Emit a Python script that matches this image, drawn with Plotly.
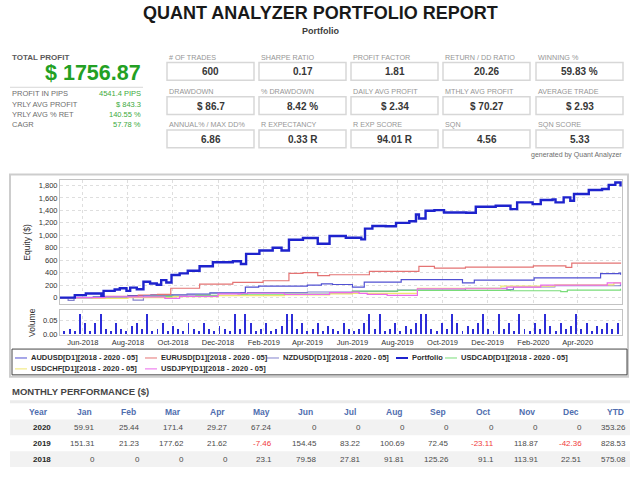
import plotly.graph_objects as go
import pandas as pd

W, H = 640, 480
FONT = "Liberation Sans, Arial, sans-serif"

# ---- equity curves ----
portfolio_dates = ["2018-05-01", "2018-05-21", "2018-06-05", "2018-06-26", "2018-06-29", "2018-07-14",
                   "2018-07-21", "2018-07-30", "2018-08-04", "2018-08-13", "2018-08-22", "2018-08-31",
                   "2018-09-09", "2018-09-15", "2018-09-22", "2018-09-29", "2018-10-10", "2018-10-21",
                   "2018-11-06", "2018-11-24", "2018-12-21", "2019-01-01", "2019-01-08", "2019-01-26",
                   "2019-02-13", "2019-02-25", "2019-03-07", "2019-03-26", "2019-04-15", "2019-05-01",
                   "2019-05-23", "2019-06-13", "2019-06-18", "2019-06-28", "2019-07-16", "2019-07-30",
                   "2019-08-17", "2019-08-26", "2019-08-30", "2019-09-08", "2019-09-20", "2019-10-03",
                   "2019-11-02", "2019-11-15", "2019-12-12", "2020-01-01", "2020-01-10", "2020-01-31",
                   "2020-02-11", "2020-02-27", "2020-03-02", "2020-03-13", "2020-03-22", "2020-03-27",
                   "2020-04-16", "2020-05-04", "2020-05-13", "2020-05-22", "2020-05-29"]
portfolio_equity = [0, 40, 65, 27, 108, 130, 150, 108, 160, 135, 254, 227, 205, 280, 243, 362, 389, 432,
                    502, 567, 583, 540, 702, 756, 800, 756, 929, 956, 864, 988, 961, 934, 1107, 1150,
                    1145, 1199, 1226, 1334, 1269, 1393, 1404, 1366, 1361, 1458, 1474, 1420, 1528, 1501,
                    1566, 1577, 1528, 1609, 1555, 1663, 1728, 1744, 1809, 1847, 1782]

audusd_dates = ["2018-05-01", "2018-06-20", "2018-08-01", "2018-09-01", "2018-10-20", "2018-11-20",
                "2019-01-01", "2019-01-07", "2019-01-25", "2019-04-01", "2019-04-20", "2019-05-05",
                "2019-06-01", "2019-06-17", "2019-08-06", "2019-10-28", "2019-11-13", "2020-02-02",
                "2020-05-02", "2020-05-27", "2020-05-29"]
audusd_equity = [0, 15, 30, 45, 55, 75, 79, 168, 184, 200, 221, 210, 168, 247, 289, 237, 279, 316,
                 384, 395, 368]

eurusd_dates = ["2018-05-01", "2018-07-01", "2018-08-15", "2018-09-10", "2018-09-28", "2018-11-06",
                "2018-12-21", "2019-01-31", "2019-03-07", "2019-03-26", "2019-04-15", "2019-05-01",
                "2019-06-24", "2019-08-30", "2019-09-20", "2019-11-01", "2020-02-01", "2020-03-16",
                "2020-03-24", "2020-05-29"]
eurusd_equity = [0, 20, 40, 50, 150, 216, 243, 270, 389, 400, 351, 367, 421, 500, 473, 489, 510,
                 484, 552, 565]

nzdusd_dates = ["2018-05-01", "2018-05-12", "2018-05-20", "2018-06-15", "2018-08-08", "2018-08-22",
                "2018-10-01", "2018-11-20", "2018-12-28", "2019-01-10", "2019-04-01", "2019-06-01",
                "2019-08-01", "2019-11-01", "2019-12-27", "2020-01-05", "2020-03-01", "2020-05-29"]
nzdusd_equity = [0, -45, 5, 15, -40, 30, 45, 70, 60, 80, 90, 100, 120, 150, 130, 170, 190, 215]

usdcad_dates = ["2018-05-01", "2018-07-01", "2018-09-01", "2018-11-01", "2019-01-01", "2019-03-01",
                "2019-05-01", "2019-06-01", "2019-08-01", "2019-11-01", "2020-01-01", "2020-03-09",
                "2020-03-18", "2020-05-29"]
usdcad_equity = [0, 5, 20, 35, 45, 55, 70, 105, 116, 116, 110, 95, 120, 142]

usdchf_dates = ["2018-05-01", "2018-06-15", "2018-08-01", "2018-10-01", "2018-12-01", "2019-03-01",
                "2019-05-01", "2019-06-01", "2019-08-28", "2019-12-19", "2020-03-01", "2020-05-20",
                "2020-05-29"]
usdchf_equity = [0, -15, 0, 15, 30, 45, 60, 68, 147, 184, 205, 237, 235]

usdjpy_dates = ["2018-05-01", "2018-07-01", "2018-09-20", "2018-10-10", "2018-12-01", "2019-01-01",
                "2019-03-01", "2019-05-01", "2019-06-01", "2019-06-10", "2019-06-21", "2019-07-18",
                "2019-08-28", "2019-12-27", "2020-02-11", "2020-05-11", "2020-05-29"]
usdjpy_equity = [0, 10, -12, 20, 60, 70, 50, 80, 89, 68, 53, 37, 142, 168, 200, 237, 210]

# weekly volume, hand read
volume = [0.01, 0.02, 0.01, 0.075, 0.04, 0.01, 0.04, 0.075, 0.02, 0.01, 0.04, 0.02, 0.01, 0.03,
          0.04, 0.02, 0.075, 0.01, 0.02, 0.04, 0.01, 0.03, 0.02, 0.01, 0.04, 0.02, 0.01, 0.04,
          0.02, 0.01, 0.03, 0.02, 0.01, 0.075, 0.02, 0.075, 0.04, 0.01, 0.02, 0.04, 0.01, 0.02,
          0.03, 0.075, 0.075, 0.02, 0.04, 0.01, 0.02, 0.04, 0.01, 0.03, 0.02, 0.01, 0.04, 0.02,
          0.01, 0.02, 0.04, 0.075, 0.02, 0.075, 0.01, 0.02, 0.04, 0.01, 0.03, 0.02, 0.04, 0.075,
          0.075, 0.02, 0.01, 0.04, 0.02, 0.075, 0.04, 0.01, 0.03, 0.02, 0.04, 0.075, 0.02, 0.01,
          0.075, 0.02, 0.04, 0.01, 0.075, 0.02, 0.01, 0.04, 0.02, 0.075, 0.03, 0.01, 0.04, 0.02,
          0.03, 0.075, 0.02, 0.04, 0.01, 0.03, 0.02, 0.04, 0.02, 0.04]
volume_dates = pd.date_range("2018-05-07", periods=len(volume), freq="7D")

# ---- statistics ----
kpi_labels = ["# OF TRADES", "SHARPE RATIO", "PROFIT FACTOR", "RETURN / DD RATIO", "WINNING %",
              "DRAWDOWN", "% DRAWDOWN", "DAILY AVG PROFIT", "MTHLY AVG PROFIT", "AVERAGE TRADE",
              "ANNUAL% / MAX DD%", "R EXPECTANCY", "R EXP SCORE", "SQN", "SQN SCORE"]
kpi_values = ["600", "0.17", "1.81", "20.26", "59.83 %",
              "$ 86.7", "8.42 %", "$ 2.34", "$ 70.27", "$ 2.93",
              "6.86", "0.33 R", "94.01 R", "4.56", "5.33"]
summary_labels = ["PROFIT IN PIPS", "YRLY AVG PROFIT", "YRLY AVG % RET", "CAGR"]
summary_values = ["4541.4 PIPS", "$ 843.3", "140.55 %", "57.78 %"]
total_profit = "$ 1756.87"

# ---- monthly performance ----
years = ["2020", "2019", "2018"]
months = ["Jan", "Feb", "Mar", "Apr", "May", "Jun", "Jul", "Aug", "Sep", "Oct", "Nov", "Dec"]
perf_2020 = [59.91, 25.44, 171.4, 29.27, 67.24, 0, 0, 0, 0, 0, 0, 0]
perf_2019 = [151.31, 21.23, 177.62, 21.62, -7.46, 154.45, 83.22, 100.69, 72.45, -23.11, 118.87, -42.36]
perf_2018 = [0, 0, 0, 0, 23.1, 79.58, 27.81, 91.81, 125.26, 91.1, 113.91, 22.51]
ytd = [353.26, 828.53, 575.08]


def X(p):
    return p / W


def Y(p):
    return 1 - p / H


series = [
    ("AUDUSD[D1][2018 - 2020 - 05]", audusd_dates, audusd_equity, "rgb(80,80,210)", 1.2),
    ("EURUSD[D1][2018 - 2020 - 05]", eurusd_dates, eurusd_equity, "rgb(228,115,115)", 1.2),
    ("NZDUSD[D1][2018 - 2020 - 05]", nzdusd_dates, nzdusd_equity, "rgb(130,130,205)", 1.2),
    ("Portfolio", portfolio_dates, portfolio_equity, "rgb(30,35,205)", 2.4),
    ("USDCAD[D1][2018 - 2020 - 05]", usdcad_dates, usdcad_equity, "rgb(120,220,120)", 1.2),
    ("USDCHF[D1][2018 - 2020 - 05]", usdchf_dates, usdchf_equity, "rgb(240,230,110)", 1.2),
    ("USDJPY[D1][2018 - 2020 - 05]", usdjpy_dates, usdjpy_equity, "rgb(235,105,235)", 1.2),
]

fig = go.Figure()

# thin lines first, portfolio on top
for name, d, v, c, w in sorted(series, key=lambda s: s[0] == "Portfolio"):
    fig.add_trace(go.Scatter(x=d, y=v, name=name, mode="lines",
                             line=dict(color=c, width=w, shape="hv"),
                             xaxis="x", yaxis="y", showlegend=False))

fig.add_trace(go.Bar(x=volume_dates, y=volume, marker_color="rgb(45,45,215)",
                     marker_line_width=0, width=1.3 * 86400000,
                     xaxis="x2", yaxis="y2", showlegend=False))

grid = dict(showgrid=True, gridcolor="rgb(222,222,222)", griddash="dot", gridwidth=1,
            showline=True, mirror=True, linecolor="rgb(195,195,195)", zeroline=False)
xr = ["2018-05-01", "2020-05-31"]
fig.update_layout(
    width=W, height=H, margin=dict(l=0, r=0, t=0, b=0),
    paper_bgcolor="white", plot_bgcolor="white",
    font=dict(family=FONT, color="rgb(60,60,60)"),
    bargap=0,
    xaxis=dict(domain=[X(60), X(622)], anchor="y", range=xr, type="date",
               dtick="M2", tick0="2018-06-01", showticklabels=False, **grid),
    yaxis=dict(domain=[Y(307), Y(182)], anchor="x", range=[-110, 1880], dtick=200,
               tickformat=",d", tickfont=dict(size=7.5, color="rgb(50,50,50)"),
               title=dict(text="Equity ($)", font=dict(size=8.5, color="rgb(50,50,50)"), standoff=6),
               **grid),
    xaxis2=dict(domain=[X(60), X(622)], anchor="y2", range=xr, type="date", matches="x",
                dtick="M2", tick0="2018-06-01", tickformat="%b-%Y",
                tickfont=dict(size=7.5, color="rgb(50,50,50)"), **grid),
    yaxis2=dict(domain=[Y(338), Y(313)], anchor="x2", range=[-0.003, 0.088],
                tickvals=[0, 0.05], tickformat=".2f", tickfont=dict(size=7.5, color="rgb(50,50,50)"),
                title=dict(text="Volume", font=dict(size=8.5, color="rgb(50,50,50)"), standoff=5),
                **grid),
)

shapes = []
ann = []


def text(x, y, s, size, color, anchor="left", bold=False):
    ann.append(dict(x=X(x), y=Y(y), xref="paper", yref="paper", text=f"<b>{s}</b>" if bold else s,
                    showarrow=False, xanchor=anchor, yanchor="middle",
                    font=dict(family=FONT, size=size, color=color)))


def rect(x0, y0, x1, y1, color, width, fill="rgba(0,0,0,0)"):
    shapes.append(dict(type="rect", xref="paper", yref="paper", x0=X(x0), y0=Y(y0), x1=X(x1), y1=Y(y1),
                       line=dict(color=color, width=width), fillcolor=fill, layer="below"))


def hline(x0, x1, y, color, width):
    shapes.append(dict(type="line", xref="paper", yref="paper", x0=X(x0), x1=X(x1), y0=Y(y), y1=Y(y),
                       line=dict(color=color, width=width)))


# header
text(320, 13, "QUANT ANALYZER PORTFOLIO REPORT", 18, "rgb(25,25,25)", "center", True)
text(320, 31, "Portfolio", 9, "rgb(60,60,60)", "center", True)

# total profit block
text(10, 58, "TOTAL PROFIT", 8, "rgb(90,90,90)", bold=True)
text(143, 74, total_profit, 21.5, "rgb(35,160,35)", "right", True)
hline(10, 143, 88, "rgb(215,215,215)", 1)
for i, (lab, val) in enumerate(zip(summary_labels, summary_values)):
    yy = 94.5 + i * 10.5
    text(10, yy, lab, 7.5, "rgb(110,110,110)")
    text(143, yy, val, 7.5, "rgb(60,170,60)", "right")

# kpi cards
col_x = [167, 259, 351, 443, 536]
row_label = [58, 92, 126]
row_box = [63, 97.5, 131]
for k, (lab, val) in enumerate(zip(kpi_labels, kpi_values)):
    r, c = divmod(k, 5)
    x0 = col_x[c]
    text(x0, row_label[r], lab, 7.2, "rgb(150,150,150)")
    rect(x0, row_box[r], x0 + 87, row_box[r] + 18, "rgb(215,215,215)", 1.5)
    text(x0 + 43.5, row_box[r] + 9.5, val, 10, "rgb(55,55,55)", "center", True)
text(624, 156, "generated by Quant Analyzer", 7, "rgb(110,110,110)", "right")

# chart frame and legend box
rect(10, 176, 628, 380, "rgb(205,205,205)", 2)
rect(12, 352, 627, 378, "rgb(70,70,70)", 1)
leg_pos = [(15, 361), (145, 361), (267, 361), (396, 361), (445, 361), (15, 372), (145, 372)]
for (name, d, v, c, w), (lx, ly) in zip(series, leg_pos):
    hline(lx, lx + 12, ly, c, 2 if name == "Portfolio" else 1)
    text(lx + 14, ly, name, 7.5, "rgb(45,45,45)", bold=True)

# monthly performance table
text(10, 395, "MONTHLY PERFORMANCE ($)", 9.5, "rgb(70,70,70)", bold=True)
hline(10, 630, 405, "rgb(235,235,235)", 3)
col_w = 44.25
header_y, row_y0, row_h = 415, 431, 16
heads = ["Year"] + months + ["YTD"]
for r in range(3):
    if r != 1:
        rect(10, row_y0 - 8 + r * row_h, 630, row_y0 + 8 + r * row_h, "rgba(0,0,0,0)", 0,
             fill="rgb(242,242,242)")
for j, h in enumerate(heads):
    right = 52 + j * col_w
    text(right - (14 if j == 0 else 12), header_y, h, 8.5, "rgb(80,110,175)", "center", True)
    for r in range(3):
        if j == 0:
            s, col, b = years[r], "rgb(40,40,40)", True
        else:
            v = ([perf_2020, perf_2019, perf_2018][r][j - 1] if j <= 12 else ytd[r])
            s, col, b = f"{v:g}", ("rgb(240,60,60)" if v < 0 else "rgb(75,75,75)"), False
        text(right + 1, row_y0 + r * row_h, s, 8, col, "right", b)

fig.update_layout(shapes=shapes, annotations=ann)
fig.write_html("out.html", config={"displayModeBar": False},
               post_script="document.body.style.margin='0px';")
